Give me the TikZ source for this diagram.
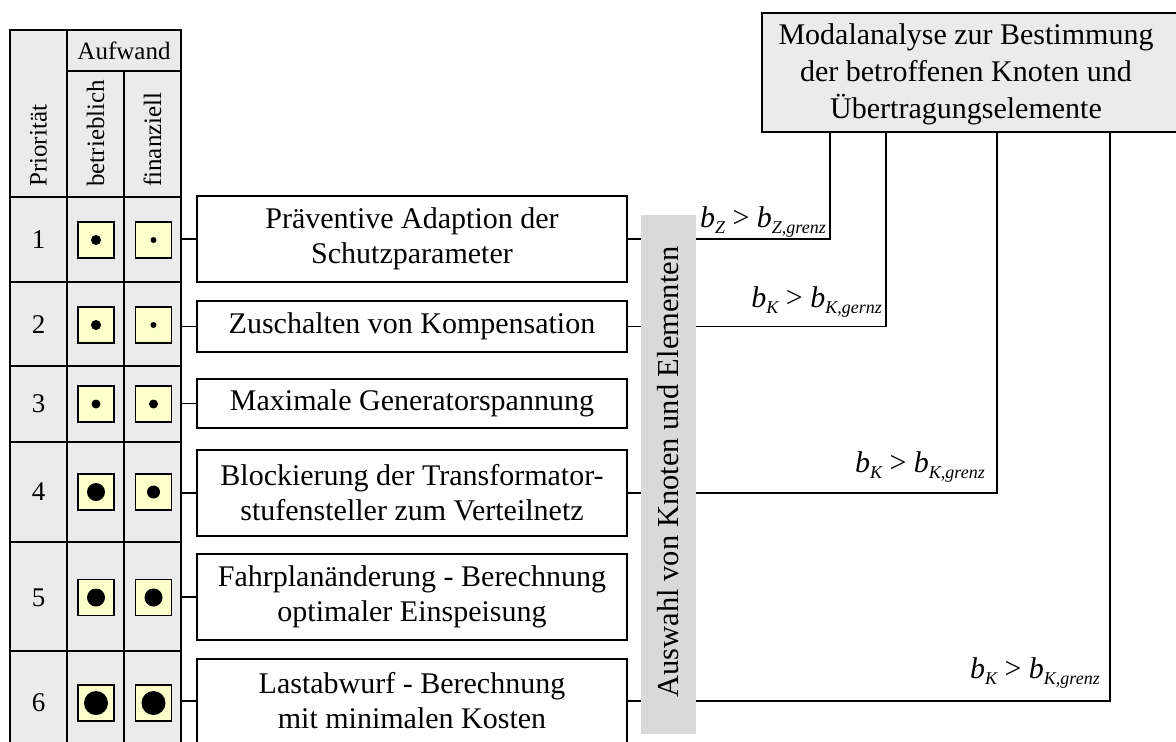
\documentclass[tikz,border=0pt]{standalone}
\usepackage{fontspec}
\setmainfont{Liberation Serif}
\definecolor{cellgray}{HTML}{EBEBEB}
\definecolor{bargray}{HTML}{D9D9D9}
\definecolor{markfill}{HTML}{FFFFCC}
% italic index, lowered and smaller
\newcommand{\lowix}[1]{\raisebox{-0.5ex}{\fontsize{18}{20}\selectfont\itshape #1}}
\newcommand{\relb}[2]{{\fontsize{30}{34}\selectfont\itshape b\lowix{#1} \upshape> \itshape b\lowix{#2}}}
\tikzset{
  tabline/.style={line width=1.3pt},
  hdr/.style={font=\fontsize{25}{28}\selectfont, inner sep=0pt},
  numtxt/.style={font=\fontsize{27}{30}\selectfont, inner sep=0pt},
  markbox/.style={draw, line width=1.4pt, fill=markfill, minimum size=36pt, inner sep=0pt},
  dot/.style={fill=black, draw=none},
  mbox/.style={draw, line width=1.5pt, fill=white, minimum width=430pt, inner sep=0pt,
               align=center, font=\fontsize{30}{35}\selectfont},
  conn/.style={line width=1.3pt},
  relabel/.style={inner sep=0pt, anchor=base east},
}
\begin{document}
\begin{tikzpicture}[x=1pt,y=-1pt]
\clip (0,0) rectangle (1176,742);
\fill[white] (0,0) rectangle (1176,742);

% ---- priority table ----
\fill[cellgray] (10,30) rectangle (181,760);
\draw[tabline] (10,760) -- (10,30) -- (181,30) -- (181,760);
\draw[tabline] (67,30) -- (67,760);
\draw[tabline] (124,71) -- (124,760);
\draw[tabline] (67,71) -- (181,71);
\foreach \yy in {197,282,366,442,542,651}
  \draw[tabline] (10,\yy) -- (181,\yy);
\coordinate (tr) at (181,0);

\node[hdr] (aufwand) at (124,50.5) {Aufwand};
\node[hdr, rotate=90, anchor=west] (prio) at (38.5,187) {Priorität};
\node[hdr, rotate=90, anchor=west] (betr) at (95.5,187) {betrieblich};
\node[hdr, rotate=90, anchor=west] (fin) at (152.5,187) {finanziell};

% rows: y centre / dot radius (betrieblich) / dot radius (finanziell)
\foreach \n/\yy/\ra/\rb in {1/240/5/3, 2/325/5/3, 3/404/4.5/4.5, 4/492/9/6.5, 5/597.5/9/9, 6/703/12/12}{
  \node[numtxt] (n\n) at (38.5,\yy) {\n};
  \node[markbox] (kb\n) at (96,\yy) {};
  \node[markbox] (kf\n) at (153.5,\yy) {};
  \fill[dot] (kb\n.center) circle[radius=\ra];
  \fill[dot] (kf\n.center) circle[radius=\rb];
}

% ---- measures ----
\node[mbox, minimum height=86pt] (b1) at (412,239) {Präventive Adaption der\\Schutzparameter};
\node[mbox, minimum height=51pt] (b2) at (412,326.5) {Zuschalten von Kompensation};
\node[mbox, minimum height=49pt] (b3) at (412,403.5) {Maximale Generatorspannung};
\node[mbox, minimum height=86pt] (b4) at (412,493) {Blockierung der Transformator-\\stufensteller zum Verteilnetz};
\node[mbox, minimum height=86pt] (b5) at (412,597) {Fahrplanänderung - Berechnung\\optimaler Einspeisung};
\node[mbox, minimum height=84pt] (b6) at (412,701) {Lastabwurf - Berechnung\\mit minimalen Kosten};

\foreach \n in {1,...,6}
  \draw[conn] (b\n.west -| tr) -- (b\n.west);

% ---- selection bar ----
\node[fill=bargray, minimum width=55pt, minimum height=519pt, inner sep=0pt] (aus) at (668.5,474.5) {};
\node[rotate=90, inner sep=0pt, font=\fontsize{30.5}{34}\selectfont] (austxt) at (668.5,472) {Auswahl von Knoten und Elementen};

% ---- modal analysis ----
\node[draw, line width=1.5pt, fill=cellgray, minimum width=440pt, minimum height=119pt,
      inner sep=0pt, anchor=north west] (modal) at (761,12) {};
\node[align=center, inner sep=0pt, font=\fontsize{30}{37}\selectfont] (modaltxt) at (966,74)
  {Modalanalyse zur Bestimmung\\der betroffenen Knoten und\\Übertragungselemente};
\coordinate (m1) at (830,131);
\coordinate (m2) at (886,131);
\coordinate (m3) at (997,131);
\coordinate (m4) at (1110,131);

% ---- feedback connectors ----
\foreach \n/\m in {1/1,2/2,4/3,6/4}{
  \draw[conn] (b\n.east) -- (b\n.east -| aus.west);
  \draw[conn] (b\n.east -| aus.east) -| (m\m);
}

\node[relabel] (l1) at (826,227) {\relb{Z}{Z,grenz}};
\node[relabel] (l2) at (882,307) {\relb{K}{K,gernz}};
\node[relabel] (l3) at (985,472) {\relb{K}{K,grenz}};
\node[relabel] (l4) at (1100,678) {\relb{K}{K,grenz}};
\end{tikzpicture}
\end{document}
